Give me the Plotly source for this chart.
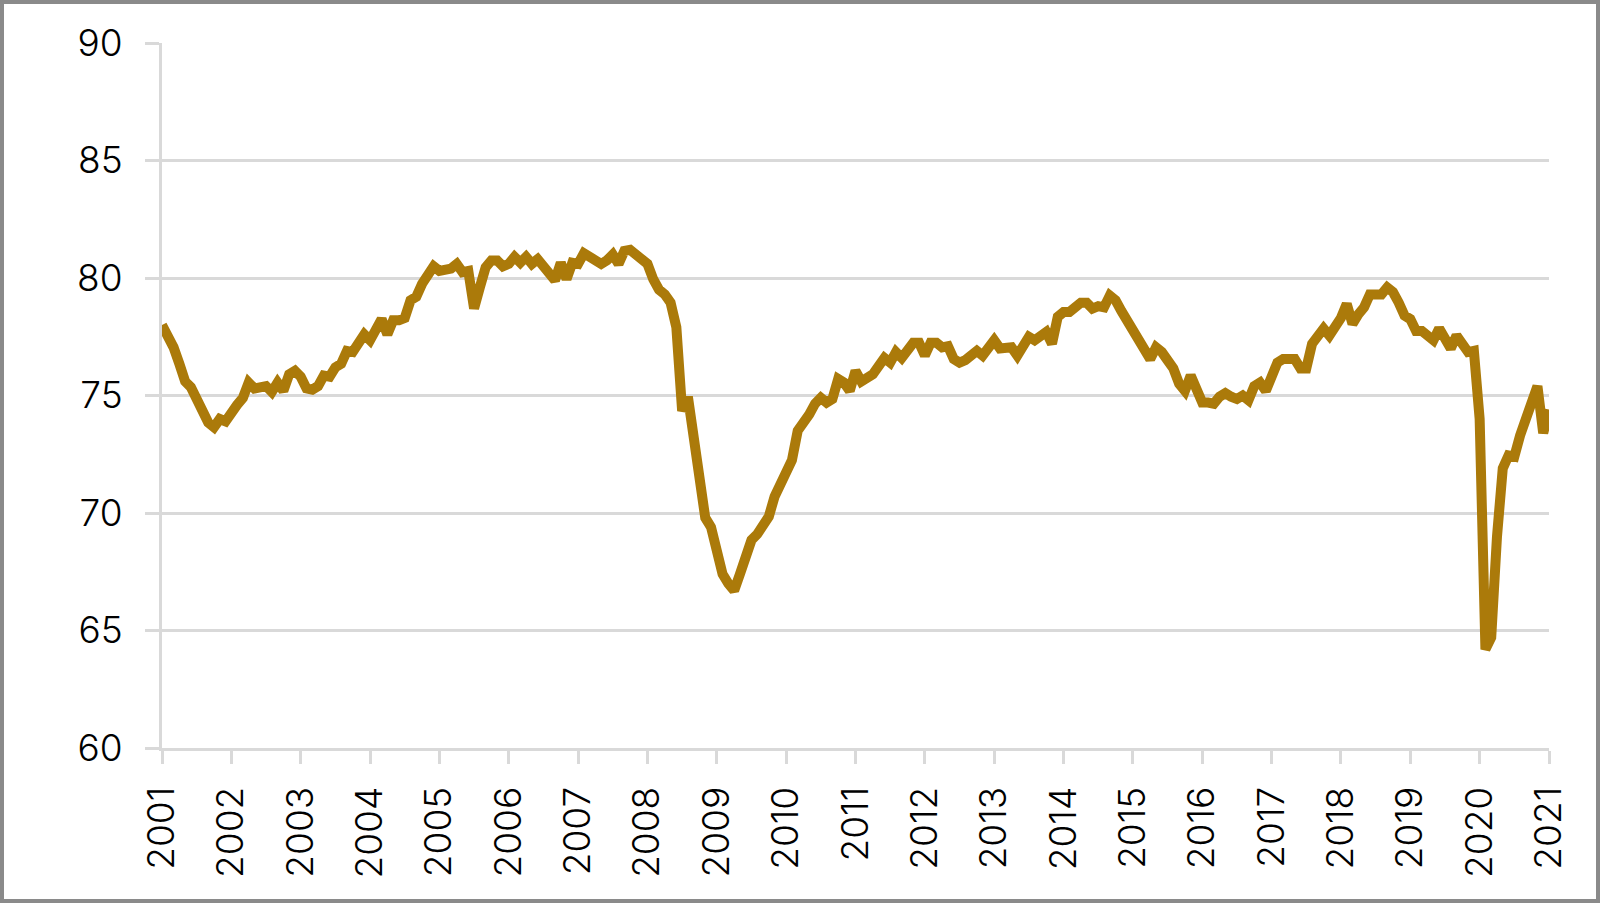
import plotly.graph_objects as go

start_year = 2001
values_2001 = [78.0, 77.6, 77.05, 76.35, 75.6, 75.35, 74.9, 74.35, 73.85, 73.65, 74.0, 73.9]
values_2002 = [74.35, 74.6, 74.9, 75.55, 75.3, 75.3, 75.4, 75.15, 75.55, 75.2, 75.9, 76.05]
values_2003 = [75.8, 75.3, 75.25, 75.4, 75.85, 75.8, 76.2, 76.35, 76.9, 76.85, 77.2, 77.6]
values_2004 = [77.35, 77.75, 78.25, 77.6, 78.2, 78.2, 78.3, 79.05, 79.2, 79.75, 80.15, 80.5]
values_2005 = [80.3, 80.3, 80.4, 80.6, 80.25, 80.3, 78.7, 79.6, 80.45, 80.75, 80.75, 80.5]
values_2006 = [80.6, 80.9, 80.65, 80.9, 80.6, 80.8, 80.45, 80.15, 79.9, 80.65, 79.95, 80.65]
values_2007 = [80.6, 81.05, 80.9, 80.65, 80.6, 80.75, 81.0, 80.6, 81.15, 81.2, 80.95, 80.8]
values_2008 = [80.6, 79.95, 79.5, 79.3, 78.95, 77.9, 74.35, 74.95, 73.0, 71.0, 69.8, 69.4]
values_2009 = [68.3, 67.4, 67.0, 66.7, 67.4, 68.3, 68.85, 69.1, 69.5, 69.85, 70.7, 71.25]
values_2010 = [71.8, 72.25, 73.5, 73.8, 74.2, 74.65, 74.9, 74.7, 74.85, 75.7, 75.55, 75.2]
values_2011 = [76.05, 75.6, 75.7, 75.9, 76.25, 76.6, 76.4, 76.85, 76.6, 77.0, 77.25, 77.25]
values_2012 = [76.7, 77.25, 77.25, 77.05, 77.1, 76.55, 76.4, 76.5, 76.75, 76.9, 76.7, 77.1]
values_2013 = [77.35, 77.0, 77.0, 77.05, 76.7, 77.2, 77.5, 77.35, 77.5, 77.7, 77.2, 78.35]
values_2014 = [78.55, 78.55, 78.75, 78.95, 78.95, 78.7, 78.8, 78.75, 79.25, 79.05, 78.6, 78.2]
values_2015 = [77.75, 77.25, 76.85, 76.55, 77.05, 76.85, 76.5, 76.15, 75.5, 75.2, 75.85, 75.3]
values_2016 = [74.7, 74.7, 74.65, 74.95, 75.1, 74.95, 74.85, 75.0, 74.8, 75.4, 75.55, 75.2]
values_2017 = [75.9, 76.4, 76.55, 76.6, 76.55, 76.15, 76.15, 77.2, 77.6, 77.85, 77.55, 77.85]
values_2018 = [78.3, 78.9, 78.05, 78.45, 78.75, 79.3, 79.25, 79.3, 79.6, 79.4, 78.95, 78.4]
values_2019 = [78.25, 77.75, 77.75, 77.55, 77.35, 77.85, 77.3, 77.0, 77.55, 77.15, 76.85, 76.9]
values_2020 = [74.0, 64.2, 64.7, 69.0, 71.9, 72.45, 72.4, 73.3, 74.1, 74.8, 75.4, 73.4]
values_2021 = [74.4]

year_labels = [str(y) for y in range(2001, 2022)]
y_ticks = [60, 65, 70, 75, 80, 85, 90]

values = (values_2001 + values_2002 + values_2003 + values_2004 + values_2005 +
          values_2006 + values_2007 + values_2008 + values_2009 + values_2010 +
          values_2011 + values_2012 + values_2013 + values_2014 + values_2015 +
          values_2016 + values_2017 + values_2018 + values_2019 + values_2020 +
          values_2021)
x = [start_year + i / 12 for i in range(len(values))]

W, H = 1600, 903
L, R, T, B = 162, 51, 43, 155
pw, ph = W - L - R, H - T - B

grid = "#d9d9d9"
font = dict(family="Inter, DejaVu Sans, sans-serif", size=37, color="#000000", weight=300)

fig = go.Figure()
fig.add_trace(go.Scatter(
    x=x, y=values, mode="lines",
    line=dict(color="#ab7a0a", width=10, shape="linear"),
    hoverinfo="skip", showlegend=False,
))

fig.update_layout(
    width=W, height=H,
    margin=dict(l=L, r=R, t=T, b=B, pad=0),
    paper_bgcolor="white", plot_bgcolor="white",
    font=font,
    xaxis=dict(
        range=[2001, 2021], tickmode="array",
        tickvals=[int(t) for t in year_labels], ticktext=year_labels,
        tickangle=-90, showgrid=False, zeroline=False,
        showline=True, linecolor=grid, linewidth=3,
        ticks="outside", ticklen=13, tickwidth=3, tickcolor=grid,
        ticklabelstandoff=8,
        tickfont=font,
    ),
    yaxis=dict(
        range=[60, 90], tickmode="array", tickvals=y_ticks,
        showgrid=True, gridcolor=grid, gridwidth=3, zeroline=False,
        showline=True, linecolor=grid, linewidth=3,
        ticks="outside", ticklen=14, tickwidth=3, tickcolor=grid,
        ticklabelstandoff=15,
        tickfont=font,
    ),
    shapes=[dict(
        type="rect", xref="paper", yref="paper", layer="above",
        x0=(2 - L) / pw, x1=(W - 2 - L) / pw,
        y0=-(B - 2) / ph, y1=(ph + T - 2) / ph,
        line=dict(color="#8a8a8a", width=4),
    )],
)

fig.write_html(
    "out.html",
    config={"displayModeBar": False, "staticPlot": True},
    post_script="document.body.style.margin='0';document.body.style.overflow='hidden';",
)
